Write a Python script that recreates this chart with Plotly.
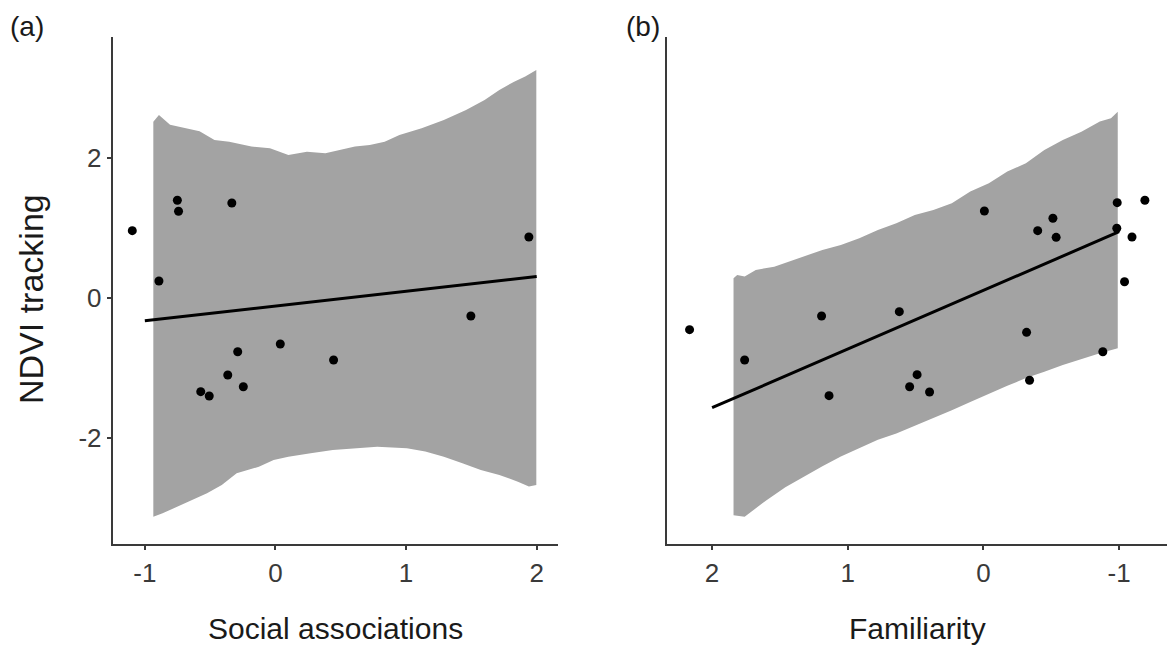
import plotly.graph_objects as go

# ---- Panel (a): NDVI tracking vs social associations ----
soc_x = [-1.096, -0.892, -0.751, -0.742, -0.334, 1.94, 1.496,
         -0.289, 0.037, 0.445, -0.365, -0.246, -0.572, -0.507]
soc_y = [0.966, 0.247, 1.40, 1.243, 1.361, 0.876, -0.253,
         -0.763, -0.653, -0.881, -1.096, -1.263, -1.334, -1.396]

soc_fit_x = [-1.0, 2.0]
soc_fit_y = [-0.32, 0.31]

soc_upper_x = [-0.935, -0.892, -0.807, -0.694, -0.581, -0.467, -0.354, -0.184,
               -0.042, 0.099, 0.241, 0.382, 0.496, 0.609, 0.722, 0.836, 0.949,
               1.119, 1.289, 1.459, 1.601, 1.714, 1.827, 1.912, 1.997]
soc_upper_y = [2.523, 2.619, 2.48, 2.433, 2.385, 2.261, 2.238, 2.167,
               2.143, 2.048, 2.095, 2.071, 2.119, 2.167, 2.19, 2.238, 2.333,
               2.428, 2.547, 2.69, 2.833, 2.976, 3.095, 3.167, 3.262]
soc_lower_x = [-0.935, -0.864, -0.751, -0.637, -0.524, -0.411, -0.297, -0.127,
               -0.014, 0.099, 0.269, 0.439, 0.581, 0.779, 1.006, 1.147, 1.289,
               1.431, 1.572, 1.714, 1.856, 1.94, 1.997]
soc_lower_y = [-3.119, -3.071, -2.976, -2.881, -2.786, -2.667, -2.5, -2.405,
               -2.31, -2.262, -2.214, -2.167, -2.143, -2.119, -2.143, -2.19, -2.262,
               -2.357, -2.452, -2.524, -2.619, -2.69, -2.667]

# ---- Panel (b): NDVI tracking vs familiarity ----
fam_x = [-0.007, -0.512, -0.4, -0.536, -0.986, -0.983, -1.19, -1.095, -1.04,
         1.193, 0.62, 2.166, 1.76, 1.138, 0.489, 0.544, 0.397, -0.318, -0.34, -0.88]
fam_y = [1.247, 1.143, 0.966, 0.871, 1.366, 1.0, 1.4, 0.876, 0.237,
         -0.253, -0.191, -0.448, -0.881, -1.391, -1.091, -1.263, -1.339, -0.486, -1.171, -0.763]

fam_fit_x = [2.0, -1.0]
fam_fit_y = [-1.563, 0.951]

fam_upper_x = [1.842, 1.815, 1.76, 1.678, 1.542, 1.433, 1.324, 1.187, 1.051, 0.915,
               0.778, 0.642, 0.506, 0.369, 0.233, 0.097, -0.04, -0.176, -0.313,
               -0.449, -0.585, -0.722, -0.858, -0.94, -0.99]
fam_upper_y = [0.286, 0.333, 0.310, 0.405, 0.452, 0.524, 0.595, 0.69, 0.762, 0.857,
               0.976, 1.071, 1.19, 1.262, 1.357, 1.524, 1.643, 1.81, 1.928,
               2.119, 2.262, 2.381, 2.524, 2.571, 2.666]
fam_lower_x = [1.842, 1.76, 1.678, 1.596, 1.46, 1.324, 1.187, 1.051, 0.915, 0.778,
               0.642, 0.506, 0.369, 0.233, 0.097, -0.04, -0.176, -0.313, -0.449,
               -0.585, -0.722, -0.858, -0.99]
fam_lower_y = [-3.1, -3.12, -3.0, -2.88, -2.7, -2.55, -2.4, -2.26, -2.14, -2.02,
               -1.93, -1.83, -1.71, -1.6, -1.48, -1.36, -1.25, -1.14, -1.05,
               -0.953, -0.87, -0.786, -0.714]

x_ticks = [-1, 0, 1, 2]
x_tick_labels = ["-1", "0", "1", "2"]
y_ticks = [-2, 0, 2]
y_tick_labels = ["-2", "0", "2"]

BAND = "#a3a3a3"
AXIS = "#3a3a3a"
FONT = "Arial, Liberation Sans, Helvetica, sans-serif"


def band(ux, uy, lx, ly):
    # closed polygon: upper edge left-to-right, lower edge back again
    return list(ux) + list(lx[::-1]), list(uy) + list(ly[::-1])


fig = go.Figure()

for (ux, uy, lx, ly, fx, fy, px, py, xa, ya) in [
    (soc_upper_x, soc_upper_y, soc_lower_x, soc_lower_y,
     soc_fit_x, soc_fit_y, soc_x, soc_y, "x", "y"),
    (fam_upper_x, fam_upper_y, fam_lower_x, fam_lower_y,
     fam_fit_x, fam_fit_y, fam_x, fam_y, "x2", "y2"),
]:
    bx, by = band(ux, uy, lx, ly)
    fig.add_trace(go.Scatter(x=bx, y=by, fill="toself", fillcolor=BAND,
                             line=dict(width=0, color=BAND), mode="lines",
                             hoverinfo="skip", showlegend=False,
                             xaxis=xa, yaxis=ya))
    fig.add_trace(go.Scatter(x=fx, y=fy, mode="lines",
                             line=dict(color="black", width=3),
                             showlegend=False, xaxis=xa, yaxis=ya))
    fig.add_trace(go.Scatter(x=px, y=py, mode="markers",
                             marker=dict(color="black", size=9),
                             showlegend=False, xaxis=xa, yaxis=ya))

W, H = 1167, 649
y_dom = [1 - 544.3 / H, 1 - 36.7 / H]

axis_common = dict(showline=True, linecolor=AXIS, linewidth=2,
                   showgrid=False, zeroline=False, ticks="outside",
                   ticklen=4, tickwidth=1.5, tickcolor=AXIS,
                   tickfont=dict(family=FONT, size=26, color="#3a3a3a"),
                   automargin=False)

fig.update_layout(
    width=W, height=H,
    margin=dict(l=0, r=0, t=0, b=0),
    paper_bgcolor="white", plot_bgcolor="white",
    xaxis=dict(domain=[112.7 / W, 558 / W], range=[-1.246, 2.163],
               tickvals=x_ticks, ticktext=x_tick_labels, anchor="y",
               **axis_common),
    yaxis=dict(domain=y_dom, range=[-3.514, 3.737], tickvals=y_ticks,
               ticktext=y_tick_labels, anchor="x", **axis_common),
    xaxis2=dict(domain=[666.5 / W, 1.0], range=[2.336, -1.353],
                tickvals=x_ticks, ticktext=x_tick_labels, anchor="y2",
                **axis_common),
    yaxis2=dict(domain=y_dom, range=[-3.514, 3.737], anchor="x2",
                showline=True, linecolor=AXIS, linewidth=2, showgrid=False,
                zeroline=False, showticklabels=False, ticks=""),
)

title_font = dict(family=FONT, size=30, color="#1a1a1a")
fig.add_annotation(text="Social associations", x=335 / W, y=1 - 628 / H,
                   xref="paper", yref="paper", showarrow=False,
                   xanchor="center", yanchor="middle", font=title_font)
fig.add_annotation(text="Familiarity", x=917 / W, y=1 - 628 / H,
                   xref="paper", yref="paper", showarrow=False,
                   xanchor="center", yanchor="middle", font=title_font)
fig.add_annotation(text="NDVI tracking", x=31 / W, y=1 - 299 / H,
                   xref="paper", yref="paper", showarrow=False, textangle=-90,
                   xanchor="center", yanchor="middle",
                   font=dict(family=FONT, size=34, color="#1a1a1a"))
fig.add_annotation(text="(a)", x=27 / W, y=1 - 26 / H,
                   xref="paper", yref="paper", showarrow=False,
                   xanchor="center", yanchor="middle",
                   font=dict(family=FONT, size=28, color="#1a1a1a"))
fig.add_annotation(text="(b)", x=643 / W, y=1 - 26 / H,
                   xref="paper", yref="paper", showarrow=False,
                   xanchor="center", yanchor="middle",
                   font=dict(family=FONT, size=28, color="#1a1a1a"))

fig.write_html("out.html")
